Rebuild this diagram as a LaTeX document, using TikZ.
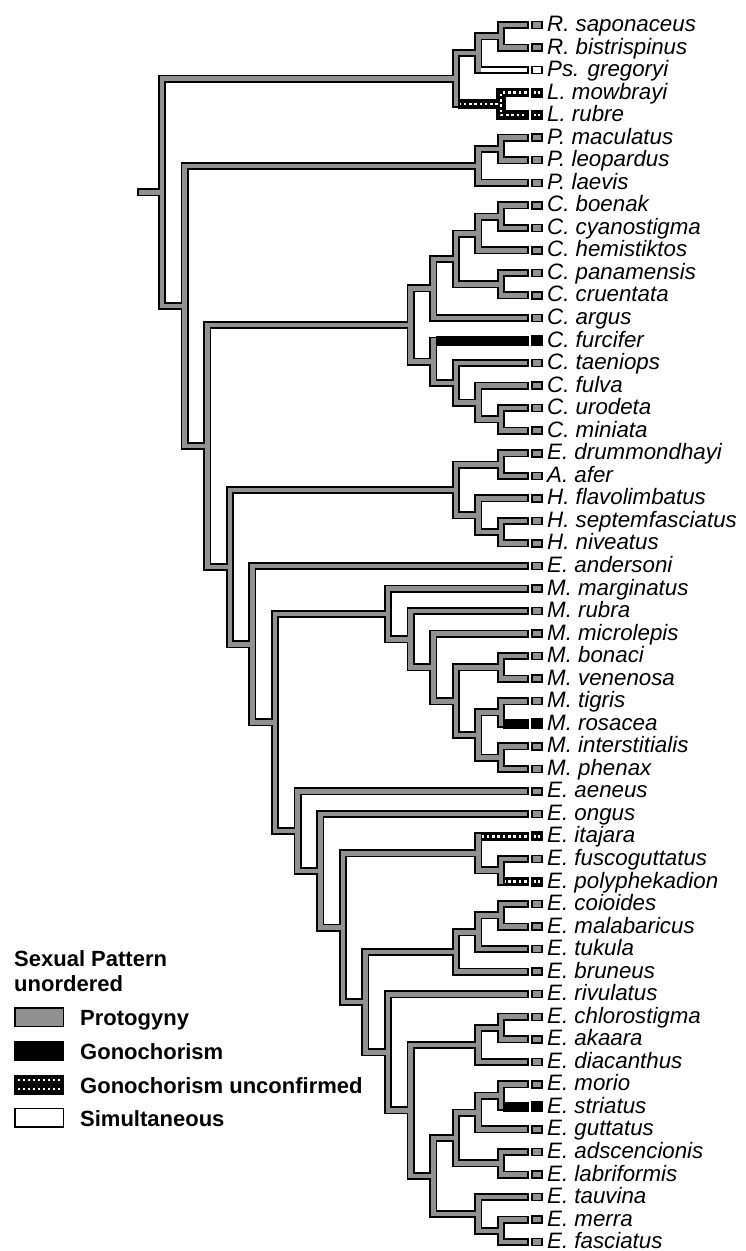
\documentclass[tikz,border=0pt]{standalone}
\usepackage{fontspec}
\setmainfont{Liberation Sans}
\usetikzlibrary{calc}
\pgfdeclarelayer{outer}
\pgfdeclarelayer{inner}
\pgfsetlayers{outer,inner,main}
\definecolor{branchgray}{RGB}{145,145,145}
\tikzset{
  outerline/.style={line width=8pt, black, line join=miter, line cap=butt},
  innerline/.style={line width=4.6pt, branchgray, line join=miter, shorten <=1.7pt, shorten >=1.7pt},
  blackbranch/.style={line width=10pt, black},
  patbranch/.style={line width=9.5pt, black, line join=miter},
  patdots/.style={line width=2.6pt, white, dash pattern=on 2.6pt off 2.7pt},
  whitebranch/.style={line width=4.2pt, white, shorten >=1.7pt},
  tipbox/.style={draw=black, line width=1.5pt, fill=branchgray, minimum width=10pt, minimum height=7pt, inner sep=0pt, outer sep=0pt},
  blackbox/.style={tipbox, fill=black, minimum height=9.5pt},
  whitebox/.style={tipbox, fill=white},
  patbox/.style={tipbox, fill=black, minimum height=8.5pt},
  boxdots/.style={white, line width=2.4pt, dash pattern=on 2.2pt off 2.3pt},
  lab/.style={anchor=base west, inner sep=0pt, font=\fontsize{22.3}{24}\selectfont\itshape},
  legtitle/.style={anchor=base west, inner sep=0pt, font=\fontsize{22}{24}\selectfont\bfseries},
  legbox/.style={draw=black, line width=1.5pt, minimum width=48.5pt, minimum height=18.5pt, inner sep=0pt, outer sep=0pt},
}
\newcommand\mytip[4]{%
  \coordinate (t#1) at (528.5,#2);
  \node[#4] (b#1) at (536.75,#2) {};
  \node[lab] (l#1) at (547,{#2+6.5}) {#3};
}
\newcommand\myclade[4]{%
  \coordinate (#1x) at ({523.6-22.6*#2},0);
  \coordinate (#1m) at ($(#3)!0.5!(#4)$);
  \coordinate (#1) at (#1x |- #1m);
  \begin{pgfonlayer}{outer}\draw[outerline] (#3) -- (#1 |- #3) -- (#1 |- #4) -- (#4);\end{pgfonlayer}
  \begin{pgfonlayer}{inner}\draw[innerline] (#3) -- (#1 |- #3) -- (#1 |- #4) -- (#4);\end{pgfonlayer}
}
\begin{document}
\begin{tikzpicture}[x=1pt,y=-1pt]
\useasboundingbox (0,0) rectangle (746,1251);
% tips
\mytip{1}{25.00}{R. saponaceus}{tipbox}
\mytip{2}{47.54}{R. bistrispinus}{tipbox}
\mytip{3}{70.08}{Ps. gregoryi}{whitebox}
\mytip{4}{92.62}{L. mowbrayi}{patbox}
\mytip{5}{115.16}{L. rubre}{patbox}
\mytip{6}{137.70}{P. maculatus}{tipbox}
\mytip{7}{160.24}{P. leopardus}{tipbox}
\mytip{8}{182.78}{P. laevis}{tipbox}
\mytip{9}{205.32}{C. boenak}{tipbox}
\mytip{10}{227.86}{C. cyanostigma}{tipbox}
\mytip{11}{250.40}{C. hemistiktos}{tipbox}
\mytip{12}{272.94}{C. panamensis}{tipbox}
\mytip{13}{295.48}{C. cruentata}{tipbox}
\mytip{14}{318.02}{C. argus}{tipbox}
\mytip{15}{340.56}{C. furcifer}{blackbox}
\mytip{16}{363.10}{C. taeniops}{tipbox}
\mytip{17}{385.64}{C. fulva}{tipbox}
\mytip{18}{408.18}{C. urodeta}{tipbox}
\mytip{19}{430.72}{C. miniata}{tipbox}
\mytip{20}{453.26}{E. drummondhayi}{tipbox}
\mytip{21}{475.80}{A. afer}{tipbox}
\mytip{22}{498.34}{H. flavolimbatus}{tipbox}
\mytip{23}{520.88}{H. septemfasciatus}{tipbox}
\mytip{24}{543.42}{H. niveatus}{tipbox}
\mytip{25}{565.96}{E. andersoni}{tipbox}
\mytip{26}{588.50}{M. marginatus}{tipbox}
\mytip{27}{611.04}{M. rubra}{tipbox}
\mytip{28}{633.58}{M. microlepis}{tipbox}
\mytip{29}{656.12}{M. bonaci}{tipbox}
\mytip{30}{678.66}{M. venenosa}{tipbox}
\mytip{31}{701.20}{M. tigris}{tipbox}
\mytip{32}{723.74}{M. rosacea}{blackbox}
\mytip{33}{746.28}{M. interstitialis}{tipbox}
\mytip{34}{768.82}{M. phenax}{tipbox}
\mytip{35}{791.36}{E. aeneus}{tipbox}
\mytip{36}{813.90}{E. ongus}{tipbox}
\mytip{37}{836.44}{E. itajara}{patbox}
\mytip{38}{858.98}{E. fuscoguttatus}{tipbox}
\mytip{39}{881.52}{E. polyphekadion}{patbox}
\mytip{40}{904.06}{E. coioides}{tipbox}
\mytip{41}{926.60}{E. malabaricus}{tipbox}
\mytip{42}{949.14}{E. tukula}{tipbox}
\mytip{43}{971.68}{E. bruneus}{tipbox}
\mytip{44}{994.22}{E. rivulatus}{tipbox}
\mytip{45}{1016.76}{E. chlorostigma}{tipbox}
\mytip{46}{1039.30}{E. akaara}{tipbox}
\mytip{47}{1061.84}{E. diacanthus}{tipbox}
\mytip{48}{1084.38}{E. morio}{tipbox}
\mytip{49}{1106.92}{E. striatus}{blackbox}
\mytip{50}{1129.46}{E. guttatus}{tipbox}
\mytip{51}{1152.00}{E. adscencionis}{tipbox}
\mytip{52}{1174.54}{E. labriformis}{tipbox}
\mytip{53}{1197.08}{E. tauvina}{tipbox}
\mytip{54}{1219.62}{E. merra}{tipbox}
\mytip{55}{1242.16}{E. fasciatus}{tipbox}
% clades
\myclade{R}{1}{t1}{t2}
\myclade{RP}{2}{R}{t3}
\myclade{Lc}{1}{t4}{t5}
\myclade{A}{3}{RP}{Lc}
\myclade{P1}{1}{t6}{t7}
\myclade{P}{2}{P1}{t8}
\myclade{Cbc}{1}{t9}{t10}
\myclade{Cb}{2}{Cbc}{t11}
\myclade{Cc}{1}{t12}{t13}
\myclade{Ca}{3}{Cb}{Cc}
\myclade{Cone}{4}{Ca}{t14}
\myclade{Cum}{1}{t18}{t19}
\myclade{Cfu}{2}{t17}{Cum}
\myclade{Cta}{3}{t16}{Cfu}
\myclade{Ctwo}{4}{t15}{Cta}
\myclade{Cfive}{5}{Cone}{Ctwo}
\myclade{Eda}{1}{t20}{t21}
\myclade{Hsn}{1}{t23}{t24}
\myclade{Hf}{2}{t22}{Hsn}
\myclade{Ecl}{3}{Eda}{Hf}
\myclade{Mbv}{1}{t29}{t30}
\myclade{Mtr}{1}{t31}{t32}
\myclade{Mip}{1}{t33}{t34}
\myclade{Msix}{2}{Mtr}{Mip}
\myclade{Mfour}{3}{Mbv}{Msix}
\myclade{Mthree}{4}{t28}{Mfour}
\myclade{Mtwo}{5}{t27}{Mthree}
\myclade{Mone}{6}{t26}{Mtwo}
\myclade{Kfp}{1}{t38}{t39}
\myclade{K}{2}{t37}{Kfp}
\myclade{Ncm}{1}{t40}{t41}
\myclade{Nt}{2}{Ncm}{t42}
\myclade{None}{3}{Nt}{t43}
\myclade{Nca}{1}{t45}{t46}
\myclade{Nfour}{2}{Nca}{t47}
\myclade{Nms}{1}{t48}{t49}
\myclade{Neight}{2}{Nms}{t50}
\myclade{Nal}{1}{t51}{t52}
\myclade{Nsix}{3}{Neight}{Nal}
\myclade{Nmf}{1}{t54}{t55}
\myclade{Nseven}{2}{t53}{Nmf}
\myclade{Nfive}{4}{Nsix}{Nseven}
\myclade{Nthree}{5}{Nfour}{Nfive}
\myclade{Ntwo}{6}{t44}{Nthree}
\myclade{L}{7}{None}{Ntwo}
\myclade{J}{8}{K}{L}
\myclade{I}{9}{t36}{J}
\myclade{H}{10}{t35}{I}
\myclade{G}{11}{Mone}{H}
\myclade{F}{12}{t25}{G}
\myclade{D}{13}{Ecl}{F}
\myclade{C}{14}{Cfive}{D}
\myclade{B}{15}{P}{C}
\myclade{Root}{16}{A}{B}
% root stub
\coordinate (stub) at (137,0);
\begin{pgfonlayer}{outer}\draw[outerline] (stub |- Root) -- (Root);\end{pgfonlayer}
\begin{pgfonlayer}{inner}\draw[innerline] (stub |- Root) -- (Root);\end{pgfonlayer}
% simultaneous branch
\draw[whitebranch] ($(RP |- t3)+(2.3,0)$) -- (t3);
% gonochorism unconfirmed branches
\draw[patbranch] ($(A |- Lc)+(2.3,0)$) -- (Lc);
\draw[patbranch] (t4) -- (Lc |- t4) -- (Lc |- t5) -- (t5);
\draw[patdots] ($(Lc)+(-3,0)$) -- ($(A |- Lc)+(4,0)$);
\draw[patdots] ($(t4)+(-2,0)$) -- (Lc |- t4) -- (Lc |- t5) -- ($(t5)+(-2,0)$);
\draw[patbranch] ($(K |- t37)+(2.3,0)$) -- (t37);
\draw[patdots] ($(t37)+(-2,0)$) -- ($(K |- t37)+(4,0)$);
\draw[patbranch] ($(Kfp |- t39)+(2.3,0)$) -- (t39);
\draw[patdots] ($(t39)+(-2,0)$) -- ($(Kfp |- t39)+(4,0)$);
% gonochorism branches
\draw[blackbranch] ($(Ctwo |- t15)+(2.3,0)$) -- (t15);
\draw[blackbranch] ($(Mtr |- t32)+(2.3,0)$) -- (t32);
\draw[blackbranch] ($(Nms |- t49)+(2.3,0)$) -- (t49);
% dots in patterned tip boxes
\foreach \b in {b4,b5,b37,b39}{
  \draw[boxdots] ($(\b.west)+(1.8,0)$) -- ($(\b.east)+(-0.5,0)$);
}
% legend
\node[legtitle] (lg1) at (14,966) {Sexual Pattern};
\node[legtitle] (lg2) at (14,991.5) {unordered};
\node[legbox, fill=branchgray] (lgb1) at (39,1017) {};
\node[legbox, fill=black] (lgb2) at (39,1050.5) {};
\node[legbox, fill=black] (lgb3) at (39,1084.5) {};
\node[legbox, fill=white] (lgb4) at (39,1117.5) {};
\draw[white, line width=2.4pt, dash pattern=on 2.5pt off 2.5pt] ($(lgb3.west)+(3,-4.3)$) -- ($(lgb3.east)+(-2,-4.3)$);
\draw[white, line width=2.4pt, dash pattern=on 2.5pt off 2.5pt] ($(lgb3.west)+(3,4.3)$) -- ($(lgb3.east)+(-2,4.3)$);
\node[legtitle] (lt1) at (80,1025) {Protogyny};
\node[legtitle] (lt2) at (80,1059) {Gonochorism};
\node[legtitle] (lt3) at (80,1093) {Gonochorism unconfirmed};
\node[legtitle] (lt4) at (80,1126) {Simultaneous};
\end{tikzpicture}
\end{document}
